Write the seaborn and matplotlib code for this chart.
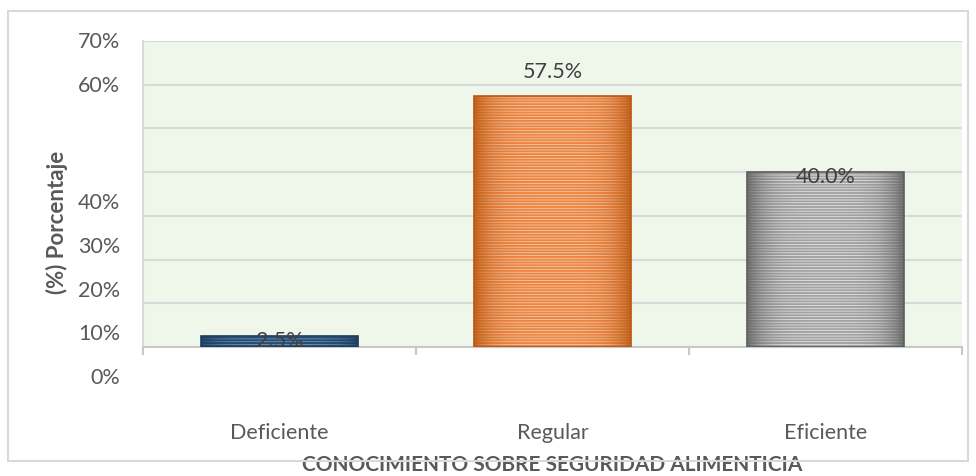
import matplotlib
matplotlib.use('Agg')
import matplotlib.pyplot as plt
import matplotlib.transforms as mtransforms
from matplotlib.colors import to_rgb
from matplotlib.patches import Rectangle
import seaborn as sns
import pandas as pd
import numpy as np

# Datos del gráfico
categorias = ['Deficiente', 'Regular', 'Eficiente']
porcentajes = [2.5, 57.5, 40.0]
etiquetas = ['2.5%', '57.5%', '40.0%']
ticks_y = [0, 10, 20, 30, 40, 50, 60, 70]
ticks_y_texto = ['0%', '10%', '20%', '30%', '40%', '', '60%', '70%']

colores_claros = ['#7c94ad', '#fac9a6', '#e4e4e4']
colores_rayas = ['#224f7a', '#ee8640', '#a3a3a3']
colores_borde = ['#1a3d5e', '#b9560f', '#5e5e5e']

df = pd.DataFrame({'nivel': categorias, 'porcentaje': porcentajes})

sns.set_style('white')
plt.rcParams['font.family'] = ['Lato', 'DejaVu Sans']
plt.rcParams['hatch.linewidth'] = 1.4

fig = plt.figure(figsize=(9.76, 4.77), dpi=100)
ax = fig.add_axes([143 / 976, 1 - 348 / 477, 819 / 976, 306 / 477])
ax.set_facecolor('#eff6ea')

sns.barplot(data=df, x='nivel', y='porcentaje', hue='nivel', palette=colores_claros,
            width=0.575, legend=False, ax=ax, zorder=3)

# Rayas horizontales y sombreado lateral de cada barra
perfil = np.abs(np.linspace(-1, 1, 200)) ** 4
for barra, raya, borde in zip(ax.patches, colores_rayas, colores_borde):
    barra.set_hatch('------')
    barra.set_edgecolor(raya)
    barra.set_linewidth(0)
    x0, y0 = barra.get_x(), barra.get_y()
    x1, y1 = x0 + barra.get_width(), y0 + barra.get_height()
    rgba = np.zeros((1, perfil.size, 4))
    rgba[..., :3] = to_rgb(borde)
    rgba[..., 3] = 0.85 * perfil
    img = ax.imshow(rgba, extent=[x0, x1, y0, y1], aspect='auto', zorder=4, interpolation='bilinear')
    img.set_clip_path(barra)
    ax.add_patch(Rectangle((x0, y0), x1 - x0, y1 - y0, fill=False, edgecolor=borde,
                           linewidth=1.2, zorder=4))

ax.set_xlim(-0.5, 2.5)
ax.set_ylim(0, 70)

# Rejilla horizontal
ax.set_yticks(ticks_y)
ax.set_yticklabels([])
ax.yaxis.grid(True, color='#d9d9d9', linewidth=1.5, zorder=0)
ax.set_axisbelow(True)
ax.tick_params(axis='y', length=5, width=1.5, color='#d9d9d9')

# Etiquetas del eje Y (desplazadas como en el original)
for valor, texto in zip(ticks_y, ticks_y_texto):
    desplaz = -30 if valor <= 40 else 0
    trans = mtransforms.offset_copy(ax.get_yaxis_transform(), fig=fig, x=-23, y=desplaz, units='dots')
    ax.text(0, valor, texto, transform=trans, ha='right', va='center', fontsize=15.5, color='#595959')

# Eje X
ax.set_xticks([0, 1, 2])
ax.set_xticklabels(categorias, fontsize=15.5, color='#595959')
ax.set_xticks([-0.5, 0.5, 1.5, 2.5], minor=True)
ax.tick_params(axis='x', which='major', length=0, pad=54)
ax.tick_params(axis='x', which='minor', length=6, width=1.5, color='#c8c8c8', direction='out', bottom=True)

for lado in ['top', 'right']:
    ax.spines[lado].set_visible(False)
ax.spines['bottom'].set_color('#c8c8c8')
ax.spines['bottom'].set_linewidth(1.5)
ax.spines['left'].set_color('#d9d9d9')
ax.spines['left'].set_linewidth(1.5)

# Etiquetas de datos
desplaz_etiqueta = [-3, 18, -3]
for i, (valor, texto) in enumerate(zip(porcentajes, etiquetas)):
    ax.annotate(texto, xy=(i, valor), xytext=(0, desplaz_etiqueta[i]), textcoords='offset points',
                ha='center', va='center', fontsize=15.5, color='#404040', zorder=6)

ax.set_xlabel('CONOCIMIENTO SOBRE SEGURIDAD ALIMENTICIA', fontsize=15, fontweight='bold',
              color='#595959', labelpad=9)
ax.set_ylabel('(%) Porcentaje', fontsize=16, fontweight='bold', color='#595959')
ax.yaxis.set_label_coords(-0.092, 0.41)

# Borde del área del gráfico
fig.patches.append(Rectangle((8 / 976, 1 - 462 / 477), 960 / 976, 450 / 477, transform=fig.transFigure,
                             fill=False, edgecolor='#d9d9d9', linewidth=1.5, zorder=0))

fig.savefig('out.png', dpi=100)
